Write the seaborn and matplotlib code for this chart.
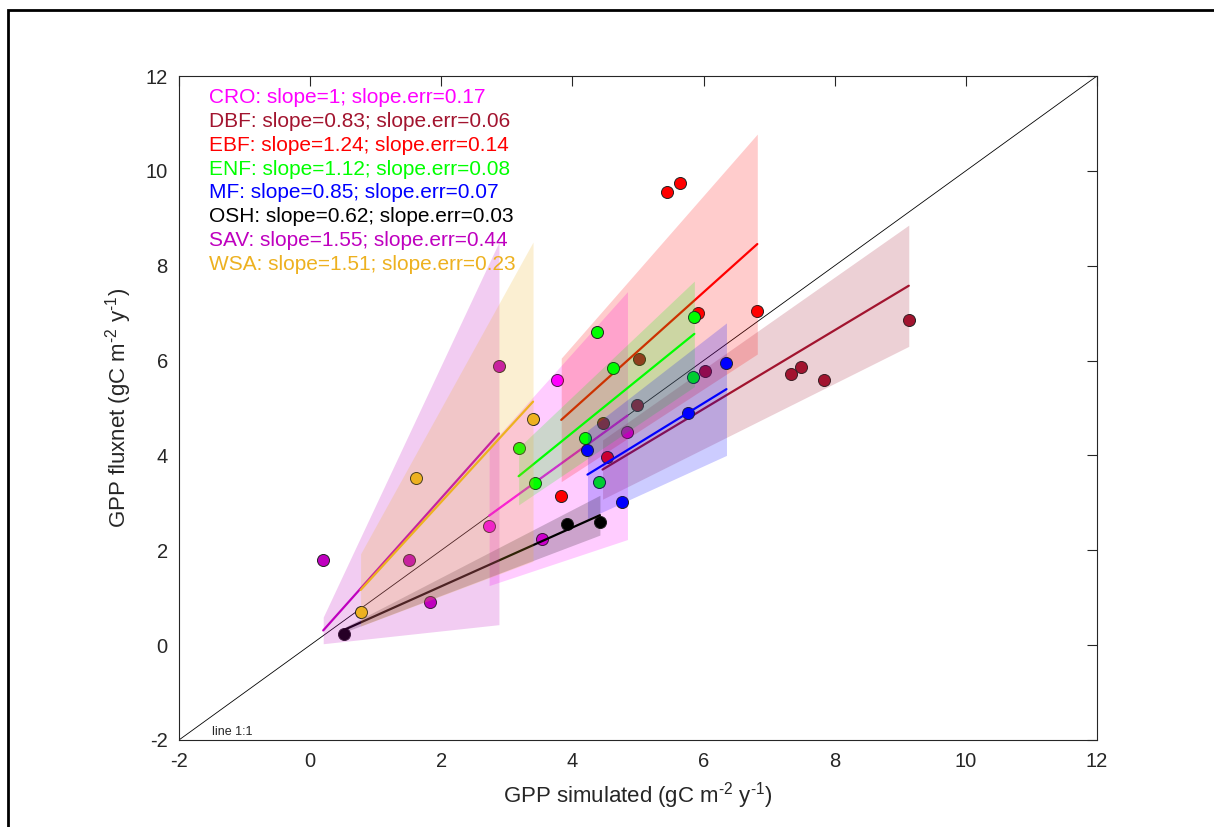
import numpy as np
import pandas as pd
import matplotlib
matplotlib.use("Agg")
import matplotlib.pyplot as plt
from matplotlib.patches import Rectangle
import seaborn as sns

# biome classes, colours and fit statistics (regression through origin)
biomes = ['CRO', 'DBF', 'EBF', 'ENF', 'MF', 'OSH', 'SAV', 'WSA']
colors = ['#ff00ff', '#a2142f', '#ff0000', '#00ff00', '#0000ff', '#000000', '#bf00bf', '#edb120']
slopes = [1, 0.83, 1.24, 1.12, 0.85, 0.62, 1.55, 1.51]
slope_err = [0.17, 0.06, 0.14, 0.08, 0.07, 0.03, 0.44, 0.23]
# 95% interval on the slope, read from the shaded areas
band_lo = [0.46, 0.69, 0.90, 0.93, 0.63, 0.525, 0.15, 0.52]
band_hi = [1.54, 0.97, 1.58, 1.31, 1.07, 0.715, 2.95, 2.50]

# site values: simulated vs fluxnet GPP
sim_cro = [2.73, 3.53, 3.77, 4.84]
flux_cro = [2.51, 2.23, 5.59, 4.50]
sim_dbf = [4.46, 4.98, 5.01, 6.03, 7.33, 7.48, 7.83, 9.13]
flux_dbf = [4.69, 5.06, 6.03, 5.78, 5.72, 5.87, 5.58, 6.86]
sim_ebf = [3.83, 4.53, 5.45, 5.64, 5.92, 6.82]
flux_ebf = [3.14, 3.96, 9.55, 9.74, 7.01, 7.05]
sim_enf = [3.18, 3.43, 4.19, 4.38, 4.41, 4.62, 5.84, 5.86]
flux_enf = [4.15, 3.42, 4.37, 6.61, 3.45, 5.85, 5.66, 6.92]
sim_mf = [4.23, 4.76, 5.77, 6.35]
flux_mf = [4.11, 3.02, 4.89, 5.94]
sim_osh = [0.52, 3.92, 4.42]
flux_osh = [0.23, 2.55, 2.60]
sim_sav = [0.20, 1.51, 1.83, 2.88]
flux_sav = [1.79, 1.79, 0.90, 5.89]
sim_wsa = [0.77, 1.61, 3.40]
flux_wsa = [0.69, 3.52, 4.77]

sims = [sim_cro, sim_dbf, sim_ebf, sim_enf, sim_mf, sim_osh, sim_sav, sim_wsa]
fluxes = [flux_cro, flux_dbf, flux_ebf, flux_enf, flux_mf, flux_osh, flux_sav, flux_wsa]

df = pd.concat([pd.DataFrame({'sim': s, 'flux': f, 'biome': b})
                for s, f, b in zip(sims, fluxes, biomes)], ignore_index=True)

sns.set_style('white')
plt.rcParams['font.family'] = ['Liberation Sans', 'DejaVu Sans']
plt.rcParams['mathtext.fontset'] = 'custom'
plt.rcParams['mathtext.rm'] = 'Liberation Sans'
plt.rcParams['mathtext.it'] = 'Liberation Sans:italic'
plt.rcParams['axes.unicode_minus'] = False

fig = plt.figure(figsize=(12.14, 8.27), dpi=100)
ax = fig.add_axes([0.1474, 0.1052, 0.7562, 0.8029])

# 1:1 line
ax.plot([-2, 12], [-2, 12], color='black', lw=0.6, zorder=0.5)

for i, b in enumerate(biomes):
    z = 1 + 3 * i
    d = df[df['biome'] == b]
    sns.scatterplot(data=d, x='sim', y='flux', color=colors[i], s=75,
                    edgecolor='#222222', linewidth=0.7, ax=ax, zorder=z, legend=False)
    xs = np.array([d['sim'].min(), d['sim'].max()])
    ax.fill_between(xs, xs * band_lo[i], xs * band_hi[i], color=colors[i],
                    alpha=0.2, linewidth=0, zorder=z + 1)
    ax.plot(xs, xs * slopes[i], color=colors[i], lw=1.6, zorder=z + 2)
    ax.text(0.033, 0.967 - i * 0.0358, f'{b}: slope={slopes[i]:g}; slope.err={slope_err[i]:g}',
            transform=ax.transAxes, color=colors[i], fontsize=15, va='center', ha='left', zorder=40)

ax.text(-1.5, -1.83, 'line 1:1', fontsize=9, va='center', ha='left')

ax.set_xlim(-2, 12)
ax.set_ylim(-2, 12)
ax.set_xticks(range(-2, 13, 2))
ax.set_yticks(range(-2, 13, 2))
ax.tick_params(direction='in', length=7, width=0.8, colors='#262626', labelsize=14.5,
               top=True, right=True, pad=9)
ax.tick_params(axis='y', pad=8)
for sp in ax.spines.values():
    sp.set_color('#262626')
    sp.set_linewidth(0.8)
unit = r'(gC m$^{\text{-}2}$ y$^{\text{-}1}$)'
ax.set_xlabel('GPP simulated ' + unit, fontsize=16, labelpad=6)
ax.set_ylabel('GPP fluxnet ' + unit, fontsize=16, labelpad=8)

# frame around the figure
fig.patches.append(Rectangle((0.0066, -0.02), 1.1, 1.008, transform=fig.transFigure,
                             fill=False, edgecolor='black', linewidth=2))

fig.savefig('out.png', dpi=100)
